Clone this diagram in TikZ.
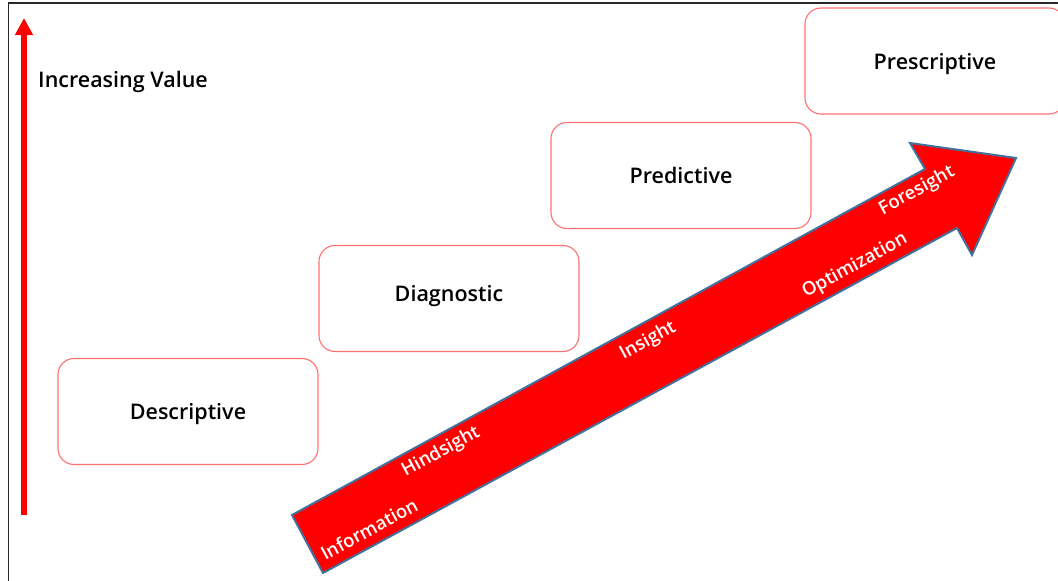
\documentclass[tikz,border=0pt]{standalone}
\usepackage{fontspec}
\setmainfont{Open Sans}
\newfontfamily\semibold{Open Sans Semibold}
\usetikzlibrary{arrows.meta,positioning}
\definecolor{boxred}{RGB}{255,112,112}
\definecolor{edgeblue}{RGB}{65,113,156}
\definecolor{framegray}{RGB}{40,40,40}

\begin{document}
\begin{tikzpicture}[x=1pt,y=-1pt,
	stage/.style={draw=boxred, line width=1.1pt, rounded corners=16pt,
		minimum width=260pt, minimum height=106pt, text height=16pt, text depth=0pt,
		font=\semibold\fontsize{21.5}{26}\selectfont},
	tag/.style={text=white, font=\semibold\fontsize{18.5}{22}\selectfont, rotate=28.6, inner sep=0pt}]
	\useasboundingbox (0,0) rectangle (1058,581);
	\draw[framegray, line width=1.5pt] (8.5,581) -- (8.5,3) -- (1058,3);
	% value axis
	\path (24,515) coordinate (V0);
	\path (24,18) coordinate (V1);
	\draw[red, line width=6pt, -{Triangle[width=17pt,length=17pt]}] (V0) -- (V1);
	\path (38,87) node[anchor=base west, inner sep=0pt, font=\semibold\fontsize{21.5}{26}\selectfont] (value) {Increasing Value};
	% stages
	\path (188,411.5) node[stage] (descriptive) {Descriptive};
	\path (449,298.5) node[stage, text depth=10pt] (diagnostic) {Diagnostic};
	\path (681,175.5) node[stage] (predictive) {Predictive};
	\path (935,61) node[stage] (prescriptive) {Prescriptive};
	% big arrow
	\path (292,515) coordinate (T1);
	\path (925,169) coordinate (N1);
	\path (910,143) coordinate (H1);
	\path (1016,158) coordinate (tip);
	\path (972,255) coordinate (H2);
	\path (957,228) coordinate (N2);
	\path (323,573) coordinate (T2);
	\filldraw[fill=red, draw=edgeblue, line width=2pt, line join=miter]
		(T1) -- (N1) -- (H1) -- (tip) -- (H2) -- (N2) -- (T2) -- cycle;
	\foreach \pos/\name/\txt in {(369,529)/information/Information, (441,452)/hindsight/Hindsight,
		(648,341)/insight/Insight, (855,266)/optimization/Optimization, (917,191)/foresight/Foresight}
		\path \pos node[tag] (\name) {\txt};
\end{tikzpicture}
\end{document}
